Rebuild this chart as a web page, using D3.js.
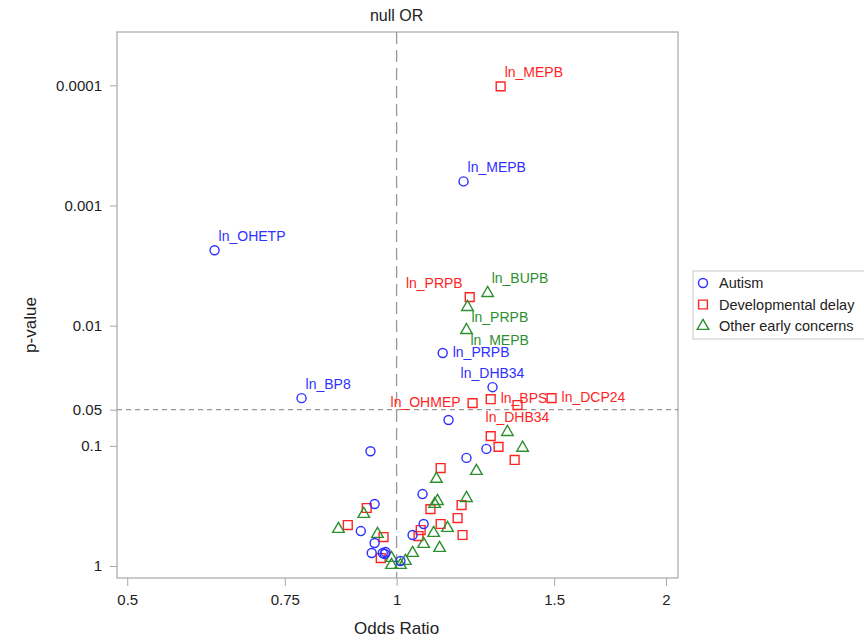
<!DOCTYPE html>
<html>
<head>
<meta charset="utf-8">
<script src="https://cdn.jsdelivr.net/npm/d3@7"></script>
<style>
  body { margin: 0; background: #fff; }
  svg { font-family: "Liberation Sans", Arial, sans-serif; }
</style>
</head>
<body>
<svg width="864" height="643"></svg>
<script>
// Volcano-style plot: odds ratio vs p-value for three outcomes

// Autism (blue circles)
const autismOR = [0.626, 1.188, 0.783, 1.126, 1.280, 1.143, 0.935, 1.260, 1.197, 0.945,
                  1.069, 0.912, 1.072, 1.042, 0.945, 0.938, 0.965, 0.970, 0.972, 1.010];
const autismP  = [0.00236, 0.00063, 0.0401, 0.0169, 0.0325, 0.061, 0.111, 0.106, 0.126, 0.305,
                  0.252, 0.512, 0.447, 0.552, 0.644, 0.780, 0.780, 0.795, 0.765, 0.909];
const autismLabels = ["ln_OHETP", "ln_MEPB", "ln_BP8", "ln_PRPB", "ln_DHB34"];

// Developmental delay (red squares)
const delayOR = [1.307, 1.207, 1.216, 1.274, 1.365, 1.490, 1.274, 1.300, 1.355, 1.120, 0.926,
                 0.882, 1.182, 1.091, 1.170, 1.120, 1.064, 1.185, 1.058, 0.967, 0.960];
const delayP  = [0.000102, 0.00579, 0.0441, 0.0409, 0.0458, 0.0401, 0.083, 0.102, 0.131, 0.153, 0.329,
                 0.456, 0.311, 0.336, 0.399, 0.447, 0.502, 0.552, 0.563, 0.574, 0.858];
const delayLabels = ["ln_MEPB", "ln_PRPB", "ln_OHMEP", "ln_BPS", "ln_DHB34", "ln_DCP24"];

// Other early concerns (green triangles)
const otherOR = [1.264, 1.200, 1.197, 1.330, 1.383, 1.228, 1.108, 1.111, 1.103, 1.197, 0.919,
                 0.861, 1.140, 1.100, 0.952, 1.072, 1.117, 1.042, 0.987, 1.023, 0.987, 1.010];
const otherP  = [0.00526, 0.00688, 0.0107, 0.0754, 0.102, 0.159, 0.185, 0.283, 0.299, 0.267, 0.362,
                 0.483, 0.474, 0.521, 0.532, 0.644, 0.695, 0.765, 0.842, 0.891, 0.962, 0.962];
const otherLabels = ["ln_BUPB", "ln_PRPB", "ln_MEPB"];

const xTicks = [0.5, 0.75, 1, 1.5, 2];
const yTicks = [0.0001, 0.001, 0.01, 0.05, 0.1, 1];
const legendNames = ["Autism", "Developmental delay", "Other early concerns"];

// where each point label sits relative to its marker
const labelPos = {
  autism: ["ur", "ur", "ur", "r", "a"],
  delay: ["ur", "ul", "l", "r", "b", "r"],
  other: ["ur", "br", "br"]
};
const offsets = {
  ur: {dx: 4, dy: -9, anchor: "start"},
  ul: {dx: -7, dy: -9, anchor: "end"},
  l:  {dx: -12, dy: 4, anchor: "end"},
  r:  {dx: 10, dy: 4, anchor: "start"},
  a:  {dx: 0, dy: -9, anchor: "middle"},
  b:  {dx: 0, dy: 17, anchor: "middle"},
  br: {dx: 4, dy: 16, anchor: "start"}
};

var svg = d3.select("svg");
var plotLeft = 117, plotRight = 678, plotTop = 32, plotBottom = 578;

var x = d3.scaleLog().domain([0.487, 2.063]).range([plotLeft, plotRight]);
var y = d3.scaleLog().domain([1.258, 0.000036]).range([plotBottom, plotTop]);

var blue = "#2f2fff", red = "#ff2424", green = "#2e8f2e";
var axisGray = "#a4a8ac";

// axes
var xAxis = svg.append("g")
    .attr("transform", "translate(0," + plotBottom + ")")
    .call(d3.axisBottom(x).tickValues(xTicks).tickFormat(d3.format(""))
        .tickSize(8).tickSizeOuter(0).tickPadding(8));
var yAxis = svg.append("g")
    .attr("transform", "translate(" + plotLeft + ",0)")
    .call(d3.axisLeft(y).tickValues(yTicks).tickFormat(d3.format(""))
        .tickSize(7).tickSizeOuter(0).tickPadding(8));

[xAxis, yAxis].forEach(function(a) {
    a.select(".domain").remove();
    a.selectAll(".tick line").attr("stroke", axisGray);
    a.selectAll(".tick text")
        .attr("fill", "#222")
        .style("font-size", "15px")
        .style("font-family", "Liberation Sans, Arial, sans-serif");
});

// frame
svg.append("rect")
    .attr("x", plotLeft).attr("y", plotTop)
    .attr("width", plotRight - plotLeft).attr("height", plotBottom - plotTop)
    .attr("fill", "none").attr("stroke", axisGray).attr("stroke-width", 1.2);

// reference lines
svg.append("line")
    .attr("x1", x(1)).attr("x2", x(1))
    .attr("y1", plotTop).attr("y2", plotBottom)
    .attr("stroke", "#999").attr("stroke-width", 1.3)
    .attr("stroke-dasharray", "12,6");
svg.append("line")
    .attr("x1", plotLeft).attr("x2", plotRight)
    .attr("y1", y(0.05)).attr("y2", y(0.05))
    .attr("stroke", "#999").attr("stroke-width", 1.2)
    .attr("stroke-dasharray", "5,4");

// titles
svg.append("text")
    .attr("x", x(1)).attr("y", 21)
    .attr("text-anchor", "middle")
    .style("font-size", "16px").attr("fill", "#222")
    .text("null OR");
svg.append("text")
    .attr("x", x(1)).attr("y", 634)
    .attr("text-anchor", "middle")
    .style("font-size", "17px").attr("fill", "#222")
    .text("Odds Ratio");
svg.append("text")
    .attr("transform", "translate(36," + 325 + ") rotate(-90)")
    .attr("text-anchor", "middle")
    .style("font-size", "17px").attr("fill", "#222")
    .text("p-value");

// marker shapes
var symbols = {
    autism: d3.symbol().type(d3.symbolCircle).size(64),
    delay: d3.symbol().type(d3.symbolSquare).size(78),
    other: d3.symbol().type(d3.symbolTriangle).size(58)
};

var groups = [
    {key: "delay", or: delayOR, p: delayP, labels: delayLabels, color: red},
    {key: "other", or: otherOR, p: otherP, labels: otherLabels, color: green},
    {key: "autism", or: autismOR, p: autismP, labels: autismLabels, color: blue}
];

groups.forEach(function(grp) {
    var pts = grp.or.map(function(v, i) { return {or: v, p: grp.p[i], label: grp.labels[i], i: i}; });

    svg.append("g").selectAll("path")
        .data(pts)
        .enter()
        .append("path")
        .attr("d", symbols[grp.key])
        .attr("transform", function(d) {
            var shift = grp.key == "other" ? 1 : 0;
            return "translate(" + x(d.or) + "," + (y(d.p) + shift) + ")";
        })
        .attr("fill", "none")
        .attr("stroke", grp.color)
        .attr("stroke-width", 1.4);

    svg.append("g").selectAll("text")
        .data(pts.filter(function(d) { return d.label; }))
        .enter()
        .append("text")
        .attr("x", function(d) { return x(d.or) + offsets[labelPos[grp.key][d.i]].dx; })
        .attr("y", function(d) { return y(d.p) + offsets[labelPos[grp.key][d.i]].dy; })
        .attr("text-anchor", function(d) { return offsets[labelPos[grp.key][d.i]].anchor; })
        .style("font-size", "14px")
        .attr("fill", grp.color)
        .text(function(d) { return d.label; });
});

// legend
var legend = svg.append("g").attr("transform", "translate(693,271)");
legend.append("rect")
    .attr("width", 175).attr("height", 68)
    .attr("fill", "#fff").attr("stroke", "#c8c8c8");
var legendKeys = ["autism", "delay", "other"];
var legendColors = [blue, red, green];
legendNames.forEach(function(name, i) {
    legend.append("path")
        .attr("d", symbols[legendKeys[i]])
        .attr("transform", "translate(10," + (12 + i * 21.5) + ")")
        .attr("fill", "none").attr("stroke", legendColors[i]).attr("stroke-width", 1.4);
    legend.append("text")
        .attr("x", 26).attr("y", 17 + i * 21.5)
        .style("font-size", "14.5px").attr("fill", "#222")
        .text(name);
});
</script>
</body>
</html>
